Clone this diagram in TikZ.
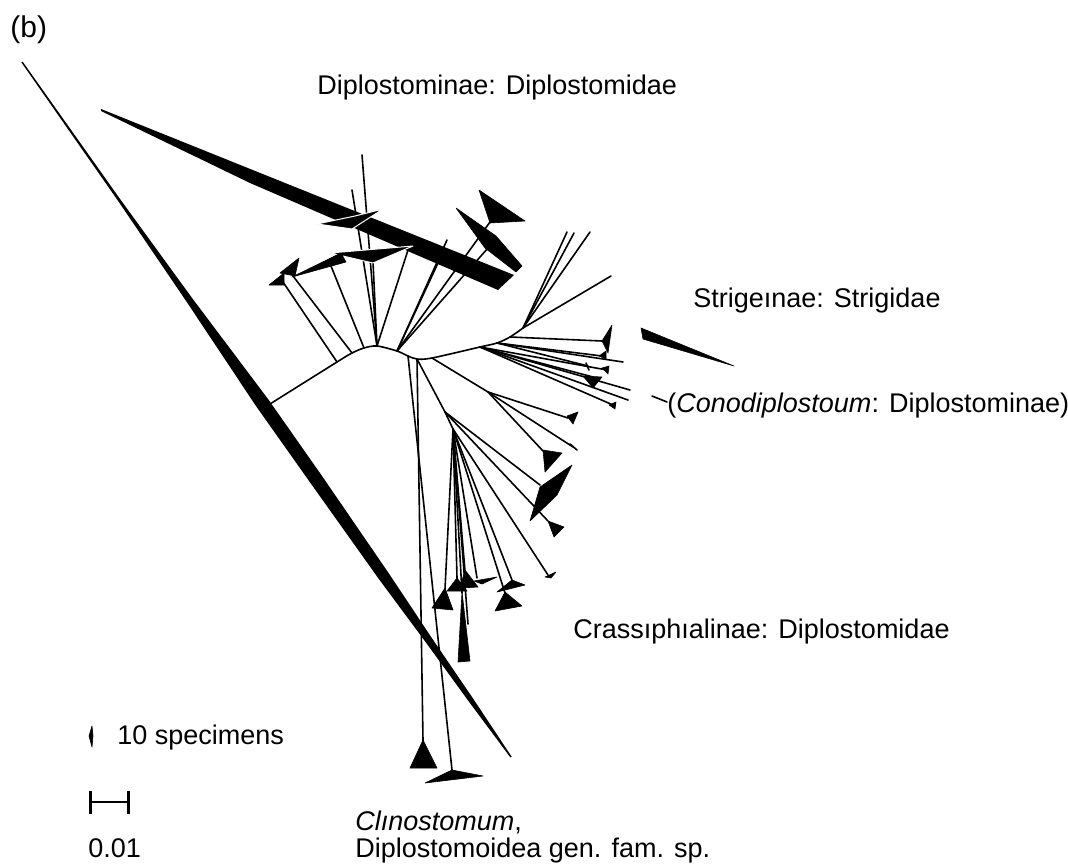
\documentclass[tikz,border=0pt]{standalone}
\usepackage{fontspec}
\setmainfont{Liberation Sans}
\begin{document}
\begin{tikzpicture}[x=0.5pt,y=-0.5pt]
\tikzset{
  br/.style={line width=0.8pt, line cap=round},
  blob/.style={fill=black, draw=black, line width=0.3pt, line join=round},
  wblob/.style={fill=black, draw=white, line width=0.5pt, line join=round},
  sbar/.style={line width=1.2pt},
  lab/.style={anchor=base west, inner sep=0pt, font=\fontsize{13.5}{16}\selectfont},
}
\useasboundingbox (0,0) rectangle (1068,866);

% ---------- long diagonal branch (wedge) ----------
\fill (22.6,61.6) -- (120.9,200.2) -- (191.9,297.8) -- (268.5,399.7) -- (322.1,476.1)
  -- (389.1,573.8) -- (431.2,637.1) -- (474.1,700.1) -- (511.6,756.6)
  -- (510.4,757.4) -- (469.7,702.7) -- (424.6,640.7) -- (378.7,578.8)
  -- (309.7,481.9) -- (255.7,405.6) -- (186.5,301.6) -- (118.7,201.8) -- (21.4,62.4) -- cycle;

% ---------- backbone ----------
\coordinate (r0) at (270,404);
\coordinate (a1) at (337,362);
\coordinate (a2) at (352,353);
\coordinate (a3) at (364,348);
\coordinate (tp) at (377,346);
\coordinate (a4) at (397,351);
\coordinate (a5) at (408,356);
\coordinate (a6) at (417,359);
\coordinate (a7) at (432,358);
\coordinate (s1) at (480,347);
\coordinate (s2) at (497,343);
\coordinate (s3) at (510,337);
\coordinate (s4) at (523,328);
\draw[br] plot[smooth, tension=0.5] coordinates {(r0) (a1) (a2) (a3) (tp) (a4) (a5) (a6) (a7) (s1) (s2) (s3) (s4)};

% ---------- Diplostominae ----------
\coordinate (d1) at (283,282);
\coordinate (d2) at (293,276);
\coordinate (d4) at (331,266);
\coordinate (d5) at (373,262);
\coordinate (d6) at (362,155);
\coordinate (d7) at (352,190);
\coordinate (d8) at (409,247);
\coordinate (d9) at (447,240);
\coordinate (d10) at (438,263);
\coordinate (d11) at (488,248);
\coordinate (d12) at (490,222);
\draw[br] (a1) -- (d1);
\draw[br] (a2) -- (d2);
\draw[br] (a3) -- (d4);
\draw[br] (tp) -- (d5);
\draw[br] (tp) -- (d6);
\draw[br] (tp) -- (d7);
\draw[br] (tp) -- (d8);
\draw[br] (a4) -- (d9);
\draw[br] (a4) -- (d10);
\draw[br] (a4) -- (d11);
\draw[br] (a4) -- (d12);
% big bar
\fill (101,109) -- (514,275) -- (498,290) -- (250,183) -- (101,111) -- cycle;
\path[wblob] (317,224) -- (355,216) -- (383,209) -- (352,229) -- cycle;
\path[wblob] (330,253) -- (413,246) -- (373,263) -- cycle;
\path[blob] (269,285) -- (284,273) -- (284,285) -- cycle;
\path[blob] (280,273) -- (299,258) -- (295,276) -- cycle;
\path[blob] (292,277) -- (341,253) -- (346,262) -- cycle;
\path[blob] (479,190) -- (525,221) -- (490,223) -- cycle;
\path[blob] (456,208) -- (496,236) -- (522,266) -- (516,272) -- (485,248) -- cycle;

% ---------- Strigeinae ----------
\coordinate (e1) at (567,232);
\coordinate (e2) at (574,233);
\coordinate (e3) at (590,232);
\coordinate (e4) at (611,276);
\coordinate (e5) at (602,341);
\coordinate (e6) at (623,362);
\coordinate (e7) at (602,356);
\coordinate (e8) at (588,366);
\coordinate (e9) at (607,370);
\coordinate (e10) at (593,377);
\coordinate (e11) at (630,390);
\coordinate (e12) at (628,400);
\coordinate (e13) at (613,405);
\draw[br] (s4) -- (e1);
\draw[br] (s4) -- (e2);
\draw[br] (s4) -- (e3);
\draw[br] (s4) -- (e4);
\draw[br] (s3) -- (e5);
\draw[br] (s2) -- (e6);
\draw[br] (s2) -- (e7);
\draw[br] (s2) -- (e8);
\draw[br] (s1) -- (e9);
\draw[br] (s1) -- (e10);
\draw[br] (s1) -- (e11);
\draw[br] (s1) -- (e12);
\draw[br] (s1) -- (e13);
\path[blob] (612,325) -- (602,341) -- (608,353) -- cycle;
\path[blob] (599,356) -- (606,351) -- (606,359) -- cycle;
\draw[br] (586,363) -- (589,370);
\path[blob] (602,368) -- (609,366) -- (608,374) -- cycle;
\path[blob] (583,376) -- (602,377) -- (593,388) -- cycle;
\path[blob] (609,405) -- (616,402) -- (615,409) -- cycle;
\path[blob] (641,328) -- (734,366) -- (643,339) -- cycle;
\coordinate (cd1) at (652,396);
\coordinate (cd2) at (667,402);
\draw[br] (cd1) -- (cd2);

% ---------- Crassiphialinae ----------
\coordinate (n1) at (445,412);
\coordinate (n1b) at (453,429);
\coordinate (n2) at (488,392);
\draw[br] (a6) -- (n1);
\draw[br] (n1) -- (n1b);
\draw[br] (a7) -- (n2);
\coordinate (f1) at (568,418);
\coordinate (f2) at (573,447);
\coordinate (f3) at (543,451);
\coordinate (f4) at (540,485);
\coordinate (f5) at (548,521);
\coordinate (f6) at (548,575);
\coordinate (f7) at (512,580);
\coordinate (f8) at (505,593);
\coordinate (f9) at (477,578);
\coordinate (f10) at (465,571);
\coordinate (f11) at (457,578);
\coordinate (f12) at (445,589);
\coordinate (f13) at (462,593);
\coordinate (f14) at (468,624);
\draw[br] (n2) -- (f1);
\draw[br] (n2) -- (f2);
\draw[br] (n2) -- (f3);
\draw[br] (n1) -- (f4);
\draw[br] (n1) -- (f5);
\draw[br] (n1b) -- (f6);
\draw[br] (n1b) -- (f7);
\draw[br] (n1b) -- (f8);
\draw[br] (n1b) -- (f9);
\draw[br] (n1b) -- (f10);
\draw[br] (n1b) -- (f11);
\draw[br] (n1b) -- (f12);
\draw[br] (n1b) -- (f13);
\draw[br] (n1b) -- (f14);
\path[blob] (567,416) -- (578,412) -- (573,424) -- cycle;
\draw[br] (570,444) -- (577,450);
\path[blob] (543,450) -- (562,453) -- (545,472) -- cycle;
\path[blob] (572,465) -- (557,495) -- (530,521) -- (540,487) -- cycle;
\path[blob] (548,521) -- (564,527) -- (554,537) -- cycle;
\path[blob] (545,577) -- (556,572) -- (551,578) -- cycle;
\path[blob] (497,592) -- (512,580) -- (525,585) -- cycle;
\path[blob] (495,611) -- (505,592) -- (522,606) -- cycle;
\path[blob] (474,581) -- (497,577) -- (482,584) -- cycle;
\path[blob] (460,588) -- (465,570) -- (478,587) -- cycle;
\path[blob] (447,591) -- (457,578) -- (467,591) -- cycle;
\path[blob] (432,608) -- (445,588) -- (453,610) -- cycle;
\path[blob] (462,592) -- (470,661) -- (458,662) -- cycle;

% ---------- Clinostomum ----------
\coordinate (c1) at (423,741);
\coordinate (c2) at (452,770);
\draw[br] (a6) -- (c1);
\draw[br] (a5) -- (c2);
\path[blob] (423,740) -- (410,768) -- (437,768) -- cycle;
\path[blob] (425,783) -- (452,770) -- (483,776) -- cycle;

% ---------- legend ----------
\path[blob] (92,726) -- (89,736) -- (92,747) -- (93,736) -- cycle;
\coordinate (sb1) at (90.5,802);
\coordinate (sb2) at (128.5,802);
\draw[sbar] (sb1) -- (sb2);
\draw[sbar] ([yshift=5.5pt]sb1) -- ([yshift=-6pt]sb1);
\draw[sbar] ([yshift=5.5pt]sb2) -- ([yshift=-6pt]sb2);

% ---------- labels ----------
\node[lab, font=\fontsize{15}{18}\selectfont] (lb) at (10,38) {(b)};
\node[lab] (ldip) at (317,95) {Diplostominae: Diplostomidae};
\node[lab] (lstr) at (693,307) {Strigeınae: Strigidae};
\node[lab] (lcon) at (667,412) {(\textit{Conodiplostoum}: Diplostominae)};
\node[lab] (lcra) at (573,638) {Crassıphıalinae: Diplostomidae};
\node[lab] (lspec) at (117,744) {10 specimens};
\node[lab] (lsc) at (88,857) {0.01};
\node[lab] (lcl1) at (355,830) {\textit{Clınostomum},};
\node[lab] (lcl2) at (355,857) {Diplostomoidea gen. fam. sp.};
\end{tikzpicture}
\end{document}
